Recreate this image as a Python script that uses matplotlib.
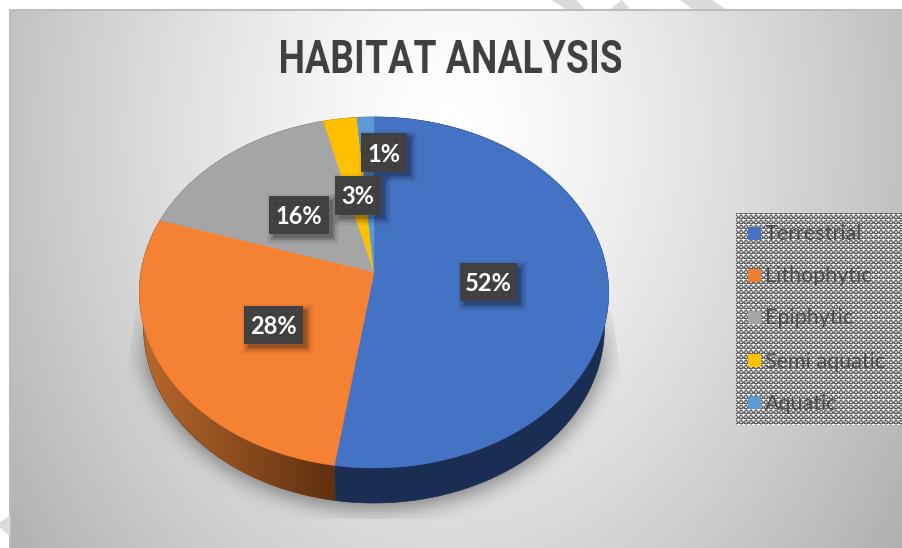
"""Habitat analysis pie, drawn by hand because the original has a 3D tilt."""
import numpy as np
import matplotlib
matplotlib.use("Agg")
import matplotlib.pyplot as plt
from matplotlib.patches import Polygon, Rectangle

plt.rcParams["font.family"] = ["Lato", "DejaVu Sans"]

title = "HABITAT ANALYSIS"
habitats = ["Terrestrial", "Lithophytic", "Epiphytic", "Semi aquatic", "Aquatic"]
shares = [52.4, 27.6, 16.1, 2.6, 1.3]
colours = ["#4472C4", "#F58233", "#A5A5A5", "#FFC000", "#5B9BD5"]
legend_colours = ["#4472C4", "#ED7D31", "#A5A5A5", "#FFC000", "#5B9BD5"]
wall_colours = ["#1A2D52", "#6E3812", "#5F5F5F", "#8A6800", "#2F5F8A"]

# label boxes in pixels: left, right, top, bottom
label_boxes = [(460, 517, 263, 301), (244, 303, 306, 344), (269, 329, 196, 234),
               (335, 381, 176, 215), (361, 407, 133, 172)]
legend_y = [233, 275, 317, 360, 402]

CX, CY = 374, 272
A, B, K = 233, 173.1, 0.1168
DEPTH = 35
TITLE_SQUEEZE = 0.79


def project(theta, scale=1.0, dy=0.0):
    # theta runs clockwise from the top of the pie
    u, v = np.sin(theta), np.cos(theta)
    w = 1 + K * v
    return CX + scale * A * u / w, CY + dy - B * v / w


def patterned(ax, box, tile, zorder):
    left, right, top, bottom = box
    h, w = bottom - top, right - left
    reps = (h // tile.shape[0] + 1, w // tile.shape[1] + 1)
    img = np.tile(tile, reps)[:h, :w]
    ax.imshow(img, extent=(left, right, bottom, top), cmap="gray", vmin=0, vmax=255,
              aspect="auto", interpolation="nearest", zorder=zorder)


def squeeze_x(image, dpi):
    # no condensed bold font is installed, so narrow the rendered title instead
    h, w = image.shape[:2]
    new_w = int(round(w * TITLE_SQUEEZE))
    src = (np.arange(new_w) + 0.5) / TITLE_SQUEEZE - 0.5
    out = np.empty((h, new_w, image.shape[2]))
    for row in range(h):
        for chan in range(image.shape[2]):
            out[row, :, chan] = np.interp(src, np.arange(w), image[row, :, chan])
    return out, (w - new_w) // 2, 0


fig = plt.figure(figsize=(9.03, 5.48), dpi=100)
ax = fig.add_axes([0, 0, 1, 1])
ax.axis("off")

# panel background
yy, xx = np.mgrid[10:548, 10:903]
r = np.sqrt(((xx - 450) / 450.0) ** 2 + ((yy - 130) / 600.0) ** 2)
bg = 255 - 62 * r ** 1.3
ax.imshow(bg, extent=(10, 903, 548, 10), cmap="gray", vmin=0, vmax=255, aspect="auto", zorder=0)
ax.plot([10, 10, 903], [548, 10, 10], color="#BDBDBD", lw=1.5, zorder=1)

# stray watermark scraps outside the panel
for pts in [[(551, 0), (576, 0), (585, 9), (566, 9)], [(610, 9), (622, 0), (630, 9)],
            [(680, 0), (712, 0), (726, 9), (692, 9)], [(0, 522), (10, 516), (10, 536), (0, 528)]]:
    ax.add_patch(Polygon(pts, closed=True, fc="#DADADA", ec="none", zorder=1))

# soft shadow under the pie, cut off hard at the bottom and fading out upwards
sy, sx = np.mgrid[300:560, 90:660]
mask = (((sx - 374) / 236.0) ** 2 + ((sy - 322) / 187.0) ** 2 < 1).astype(float)
kern = np.exp(-0.5 * (np.arange(-30, 31) / 10.0) ** 2)
kern /= kern.sum()
mask = np.apply_along_axis(lambda c: np.convolve(c, kern, mode="same"), 0, mask)
mask = np.apply_along_axis(lambda c: np.convolve(c, kern, mode="same"), 1, mask)
fade = np.clip((sy - 300) / 70.0, 0, 1)
rgba = np.zeros(mask.shape + (4,))
rgba[..., 3] = np.clip(mask * 0.42 * fade, 0, 1)
shadow = ax.imshow(rgba, extent=(90, 660, 560, 300), aspect="auto", zorder=2)
shadow.set_clip_path(Polygon([(137, 300), (124, 395), (124, 519), (624, 519), (624, 395), (610, 300)],
                             closed=True, transform=ax.transData))

# slices
edges = np.concatenate([[0], np.cumsum(shares)]) / np.sum(shares) * 2 * np.pi
for i in range(len(shares)):
    t = np.linspace(edges[i], edges[i + 1], 200)
    x0, y0 = project(t)
    x1, y1 = project(t, scale=0.982, dy=DEPTH)
    outline = np.r_[np.c_[x0, y0], np.c_[x1, y1][::-1]]
    ax.add_patch(Polygon(outline, closed=True, fc=wall_colours[i], ec=wall_colours[i],
                         lw=0.5, zorder=3))
    if habitats[i] == "Lithophytic":
        # the orange side fades from light to dark towards the front
        grad = np.linspace(0, 1, 200)[None, :, None]
        c0, c1 = np.array([0xB8, 0x68, 0x2C]) / 255, np.array([0x5E, 0x30, 0x10]) / 255
        img = ax.imshow(c0 * (1 - grad) + c1 * grad, extent=(140, 336, 510, 300),
                        aspect="auto", zorder=3.1)
        img.set_clip_path(Polygon(outline, closed=True, transform=ax.transData))

for i in range(len(shares)):
    t = np.linspace(edges[i], edges[i + 1], 200)
    x0, y0 = project(t)
    ax.add_patch(Polygon(np.r_[[(CX, CY)], np.c_[x0, y0]], closed=True,
                         fc=colours[i], ec=colours[i], lw=0.3, zorder=4))

# percent labels in dark patterned boxes with a soft drop shadow
box_tile = np.full((7, 7), 64, dtype=np.uint8)
box_tile[3:5, 3:5] = 74
for i, box in enumerate(label_boxes):
    left, right, top, bottom = box
    for grow, alpha in [(6, 0.05), (4, 0.08), (2, 0.12), (0, 0.18)]:
        ax.add_patch(Rectangle((left + 4 - grow, top + 4 - grow), right - left + 2 * grow,
                               bottom - top + 2 * grow, fc="black", ec="none", alpha=alpha, zorder=5))
    patterned(ax, box, box_tile, 6)
    ax.text((left + right) / 2, (top + bottom) / 2 + 1.5, f"{round(shares[i])}%", color="white",
            fontsize=17, fontweight="bold", ha="center", va="center", zorder=7)

# title
title_text = ax.text(451, 60, title, color="#404040", fontsize=34, fontweight="bold", ha="center",
                     va="center", family=["Roboto", "DejaVu Sans"], zorder=7)
title_text.set_agg_filter(squeeze_x)

# legend on a checkered patch
legend_tile = np.array([[95, 95, 170, 95, 95],
                        [170, 255, 255, 255, 170],
                        [95, 170, 255, 170, 95],
                        [170, 120, 170, 120, 170],
                        [215, 95, 95, 95, 215]], dtype=np.uint8)
patterned(ax, (736, 902, 213, 425), legend_tile, 5)
for name, col, y in zip(habitats, legend_colours, legend_y):
    ax.add_patch(Rectangle((748, y - 6.5), 13, 13, fc=col, ec="none", zorder=6))
    ax.text(765, y + 1.5, name, color="#4D4D4D", fontsize=15.5, ha="left", va="center", zorder=7)

ax.set_xlim(0, 903)
ax.set_ylim(548, 0)
fig.savefig("out.png", dpi=100)
